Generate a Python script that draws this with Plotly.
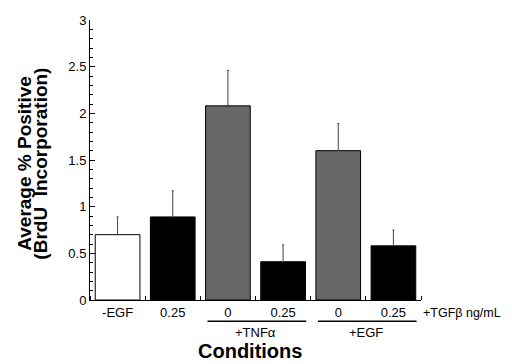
import plotly.graph_objects as go

labels = ["-EGF", "0.25", "0", "0.25", "0", "0.25"]
values = [0.70, 0.89, 2.08, 0.41, 1.60, 0.58]
errors = [0.19, 0.28, 0.38, 0.18, 0.29, 0.17]
colors = ["#ffffff", "#000000", "#686868", "#000000", "#686868", "#000000"]
groups = [("+TNF\u03b1", 2, 3), ("+EGF", 4, 5)]
ytitle_lines = ["Average % Positive", "(BrdU  Incorporation)"]

xs = list(range(len(labels)))
FONT = "Liberation Sans, Arial, Helvetica, sans-serif"

fig = go.Figure()
fig.add_trace(go.Bar(
    x=xs, y=values, width=0.81,
    marker=dict(color=colors, line=dict(color="#000000", width=1)),
    error_y=dict(type="data", array=errors, arrayminus=[0]*len(errors),
                 symmetric=False, color="#444444", thickness=1, width=1),
    showlegend=False,
))

shapes = []
annotations = []
for name, a, b in groups:
    shapes.append(dict(type="line", xref="x", yref="paper",
                       x0=a - 0.37, x1=b + 0.42, y0=-0.076, y1=-0.076,
                       line=dict(color="#000000", width=1.5)))
    annotations.append(dict(text=name, x=(a + b) / 2, xref="x", y=-0.115, yref="paper",
                            showarrow=False, yanchor="middle",
                            font=dict(size=13, color="#000000", family=FONT)))
annotations.append(dict(text="+TGF\u03b2 ng/mL", x=1.0, xref="paper", xshift=0,
                        y=-0.046, yref="paper",
                        xanchor="left", yanchor="middle", showarrow=False,
                        font=dict(size=12.5, color="#000000", family=FONT)))
annotations.append(dict(text="<b>Conditions</b>", x=0.483, xref="paper", y=-0.182, yref="paper",
                        xanchor="center", yanchor="middle", showarrow=False,
                        font=dict(size=20, color="#000000", family=FONT)))
for i, line in enumerate(ytitle_lines):
    annotations.append(dict(text="<b>" + line + "</b>", x=[-0.196, -0.148][i], xref="paper",
                            y=0.487, yref="paper", textangle=-90,
                            xanchor="center", yanchor="middle", showarrow=False,
                            font=dict(size=19, color="#000000", family=FONT)))

# page body adds an 8px offset, so the figure is sized to fit the remaining window
fig.update_layout(
    width=504, height=356,
    margin=dict(l=82, r=91, t=12, b=64),
    paper_bgcolor="white", plot_bgcolor="white",
    shapes=shapes, annotations=annotations,
    font=dict(family=FONT, color="#000000"),
    xaxis=dict(
        range=[-0.5, 5.5], tickvals=xs, ticktext=labels, ticks="",
        showline=True, linecolor="#000000", linewidth=1, showgrid=False, zeroline=False,
        tickfont=dict(size=13), ticklabelstandoff=0, automargin=False,
        minor=dict(tick0=0.5, dtick=1, ticks="inside", ticklen=4, tickcolor="#000000", showgrid=False),
    ),
    yaxis=dict(
        range=[0, 3], tickvals=[0, 0.5, 1, 1.5, 2, 2.5, 3],
        ticktext=["0", "0.5", "1", "1.5", "2", "2.5", "3"],
        ticks="inside", ticklen=5, tickcolor="#000000",
        showline=True, linecolor="#000000", linewidth=1, showgrid=False, zeroline=False,
        tickfont=dict(size=13), automargin=False,
        minor=dict(dtick=0.1, ticks="inside", ticklen=2.5, tickcolor="#000000", showgrid=False),
    ),
)

fig.write_html("out.html")
